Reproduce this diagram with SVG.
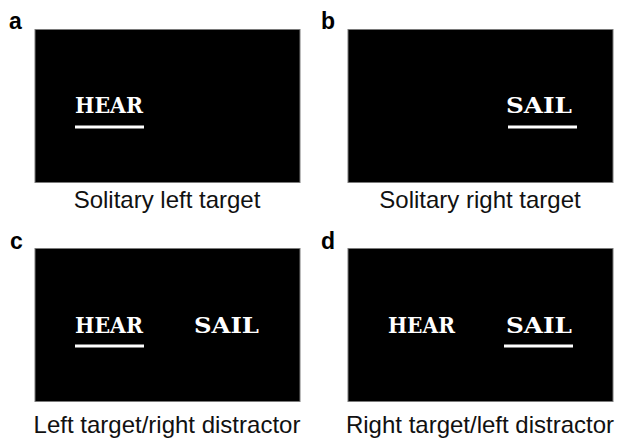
<svg xmlns="http://www.w3.org/2000/svg" width="622" height="438" viewBox="0 0 622 438">
<style>
.scr{fill:#000;stroke:#7a7a7a;stroke-width:1}
.w{font-family:"DejaVu Serif","Liberation Mono",serif;font-weight:bold;font-size:22px;fill:#fff}
.ul{stroke:#fff;stroke-width:3}
.cap{font-family:"Liberation Sans",Arial,sans-serif;font-size:24px;fill:#111;text-anchor:middle}
.lbl{font-family:"Liberation Sans",Arial,sans-serif;font-weight:bold;font-size:23px;fill:#000}
</style>
<rect width="622" height="438" fill="#fff"/>
<g id="panel-a">
<text class="lbl" x="9" y="29">a</text>
<rect class="scr" x="35" y="29.5" width="265" height="153"/>
<text class="w" x="75" y="113" textLength="68" lengthAdjust="spacingAndGlyphs">HEAR</text>
<line class="ul" x1="75" y1="127" x2="144" y2="127"/>
<text class="cap" x="167" y="208">Solitary left target</text>
</g>
<g id="panel-b">
<text class="lbl" x="321" y="29">b</text>
<rect class="scr" x="348" y="29.5" width="265" height="153"/>
<text class="w" x="506" y="113" textLength="66" lengthAdjust="spacingAndGlyphs">SAIL</text>
<line class="ul" x1="508" y1="127" x2="577" y2="127"/>
<text class="cap" x="480" y="208">Solitary right target</text>
</g>
<g id="panel-c">
<text class="lbl" x="10" y="249">c</text>
<rect class="scr" x="35" y="248.5" width="265" height="153"/>
<text class="w" x="75" y="333" textLength="68" lengthAdjust="spacingAndGlyphs">HEAR</text>
<text class="w" x="194" y="333" textLength="65" lengthAdjust="spacingAndGlyphs">SAIL</text>
<line class="ul" x1="75" y1="346" x2="144" y2="346"/>
<text class="cap" x="167" y="433">Left target/right distractor</text>
</g>
<g id="panel-d">
<text class="lbl" x="321" y="249">d</text>
<rect class="scr" x="348" y="248.5" width="265" height="153"/>
<text class="w" x="388" y="333" textLength="67" lengthAdjust="spacingAndGlyphs">HEAR</text>
<text class="w" x="506" y="333" textLength="66" lengthAdjust="spacingAndGlyphs">SAIL</text>
<line class="ul" x1="504" y1="346" x2="573" y2="346"/>
<text class="cap" x="480" y="433">Right target/left distractor</text>
</g>
<g id="connectors"/>
</svg>
